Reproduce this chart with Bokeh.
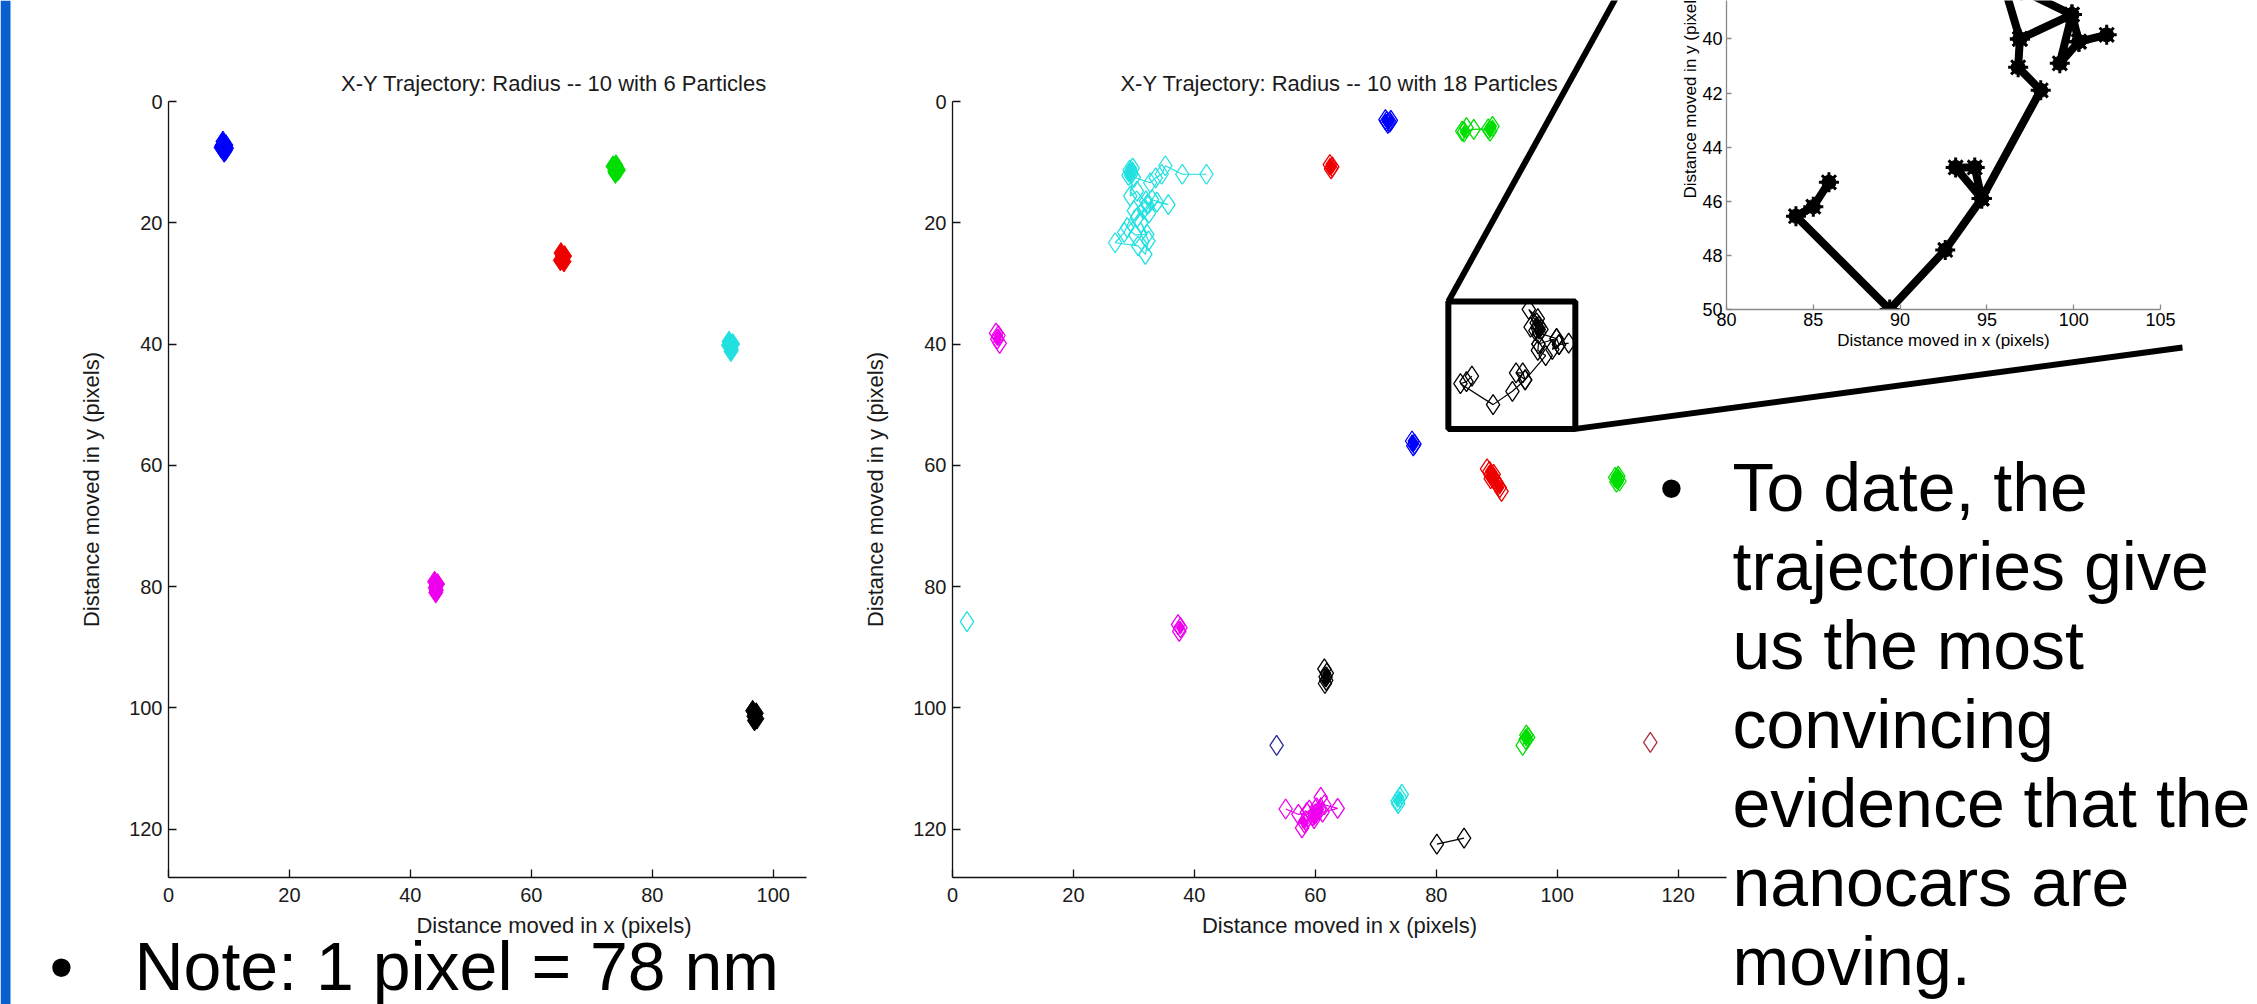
import math
from bokeh.plotting import figure
from bokeh.models import Range1d, FixedTicker, GridBox
from bokeh.core.properties import value
from bokeh.embed import file_html
from bokeh.resources import INLINE

W, H = 2257, 1004
FONT = "Liberation Sans"

# ---------------- data ----------------
AXIS_TICKS = [0, 20, 40, 60, 80, 100, 120]
LEFT_X_TICKS = [0, 20, 40, 60, 80, 100]
X_LABEL = "Distance moved in x (pixels)"
Y_LABEL = "Distance moved in y (pixels)"

# Left plot: 6 particles (positions in pixels)
L_TITLE = "X-Y Trajectory: Radius -- 10 with 6 Particles"
L_BLUE_X = [9.0, 9.5, 8.7, 9.4, 9.1, 9.6, 8.8, 9.2]
L_BLUE_Y = [6.6, 7.2, 7.6, 8.1, 7.0, 7.7, 7.3, 8.3]
L_GREEN_X = [73.5, 74.2, 73.8, 74.4, 73.9, 74.0]
L_GREEN_Y = [10.7, 11.0, 11.5, 11.3, 11.8, 10.5]
L_RED_X = [64.9, 65.5, 65.1, 65.4, 64.8, 65.2]
L_RED_Y = [25.0, 25.5, 26.0, 26.4, 26.2, 25.6]
L_CYAN_X = [92.7, 93.3, 92.9, 93.1, 93.0, 92.6]
L_CYAN_Y = [39.6, 40.0, 40.5, 40.9, 41.2, 40.2]
L_MAG_X = [44.0, 44.5, 44.1, 44.3, 44.2]
L_MAG_Y = [79.2, 79.6, 80.2, 80.6, 81.0]
L_BLACK_X = [96.6, 97.2, 96.8, 97.3, 96.9, 97.0]
L_BLACK_Y = [100.5, 100.9, 101.4, 101.8, 102.1, 101.1]

# Middle plot: 18 particles
M_TITLE = "X-Y Trajectory: Radius -- 10 with 18 Particles"
M_BLUE1_X = [71.6, 72.3, 72.0, 72.5, 71.8]
M_BLUE1_Y = [3.0, 3.4, 3.6, 3.1, 3.3]
M_GREEN1_X = [84.3, 85.0, 84.6, 86.2, 88.6, 89.3, 88.9]
M_GREEN1_Y = [4.9, 4.3, 5.0, 4.6, 4.5, 4.1, 4.9]
M_RED1_X = [62.4, 62.8, 62.6]
M_RED1_Y = [10.4, 10.8, 11.1]
M_CYAN1_X = [42.0, 38.0, 35.2, 34.6, 33.6, 32.7, 30.0, 29.5, 29.1, 29.6, 29.3, 29.8, 29.4, 30.5, 32.2, 33.0,
             35.7, 33.8, 32.5, 31.6, 30.5, 28.9, 30.2, 32.2, 31.2, 32.4, 31.9, 30.7, 26.9, 28.4, 30.0, 32.0]
M_CYAN1_Y = [12.0, 12.0, 10.6, 12.0, 12.6, 13.4, 12.5, 11.6, 12.2, 11.9, 11.3, 11.0, 15.6, 14.8, 17.0, 16.2,
             17.0, 16.6, 18.4, 17.8, 19.2, 20.8, 22.0, 21.9, 20.0, 23.0, 25.2, 23.8, 23.3, 21.6, 18.0, 16.4]
M_MAG1_X = [7.2, 7.6, 7.4, 7.8]
M_MAG1_Y = [38.2, 38.6, 39.2, 39.9]
BLK_X = [96.9, 99.9, 99.2, 100.3, 101.9, 100.3, 99.9, 97.0, 97.4, 97.0, 96.6, 95.3, 96.8, 96.4, 95.6,
         96.9, 96.8, 98.1, 94.7, 94.3, 93.2, 94.7, 92.6, 89.4, 84.0, 85.0, 85.9]
BLK_Y = [40.0, 39.1, 40.9, 40.1, 39.85, 40.1, 39.1, 38.2, 37.6, 37.0, 36.5, 34.3, 35.8, 37.8, 37.2,
         40.0, 41.05, 41.9, 45.9, 44.75, 44.75, 45.9, 47.8, 50.0, 46.55, 46.2, 45.3]
M_BLUE2_X = [76.0, 76.4, 76.2]
M_BLUE2_Y = [56.0, 56.5, 56.8]
M_RED2_X = [88.4, 88.8, 89.0, 89.3, 89.6, 89.9, 90.2, 90.5, 90.8, 89.5, 89.0, 90.0]
M_RED2_Y = [60.6, 61.0, 61.6, 61.9, 62.3, 62.8, 63.3, 63.7, 64.3, 61.5, 62.2, 63.0]
M_GREEN2_X = [109.6, 110.0, 110.3, 109.8, 110.1]
M_GREEN2_Y = [62.0, 62.2, 62.6, 62.8, 61.8]
M_CYAN2_X = [2.4]
M_CYAN2_Y = [85.8]
M_MAG2_X = [37.3, 37.7, 37.5]
M_MAG2_Y = [86.3, 86.8, 87.4]
M_BLACK2_X = [61.5, 61.9, 61.7, 61.8, 61.6]
M_BLACK2_Y = [93.6, 94.3, 94.9, 95.5, 96.0]
M_NAVY_X = [53.6]
M_NAVY_Y = [106.2]
M_GREEN3_X = [94.9, 95.2, 94.8, 94.3]
M_GREEN3_Y = [104.5, 104.9, 105.2, 106.2]
M_DKRED_X = [115.4]
M_DKRED_Y = [105.7]
M_MAG3_X = [55.1, 57.2, 58.6, 59.0, 59.6, 60.2, 60.9, 61.5, 63.7, 61.2, 59.8, 58.4, 57.8, 58.2, 60.0, 60.7]
M_MAG3_Y = [116.7, 117.6, 117.3, 116.9, 117.8, 116.5, 114.8, 116.0, 116.6, 117.2, 118.3, 118.6, 119.8, 119.0, 117.5, 116.8]
M_CYAN3_X = [73.6, 74.0, 74.3, 73.7]
M_CYAN3_Y = [115.4, 114.8, 114.3, 115.8]
M_BLACK3_X = [80.1, 84.6]
M_BLACK3_Y = [122.5, 121.5]

# Inset (zoom of the black trajectory) and zoom box in middle plot
IN_X_TICKS = [80, 85, 90, 95, 100, 105]
IN_Y_TICKS = [40, 42, 44, 46, 48, 50]
ZOOM_X = [82.0, 103.0]
ZOOM_Y = [33.0, 54.0]

NOTE_TEXT = "Note: 1 pixel = 78 nm"
BULLET_LINES = ["To date, the", "trajectories give", "us the most", "convincing",
                "evidence that the", "nanocars are", "moving."]

BLUE, GREEN, RED, CYAN, MAG, BLACK = "#0000ff", "#00dd00", "#ee0000", "#22e0e0", "#ee00ee", "#000000"
NAVY, DKRED = "#2a2a98", "#b03040"

LEFT_TRACKS = [(BLUE, L_BLUE_X, L_BLUE_Y), (GREEN, L_GREEN_X, L_GREEN_Y), (RED, L_RED_X, L_RED_Y),
               (CYAN, L_CYAN_X, L_CYAN_Y), (MAG, L_MAG_X, L_MAG_Y), (BLACK, L_BLACK_X, L_BLACK_Y)]
MID_TRACKS = [(BLUE, M_BLUE1_X, M_BLUE1_Y), (GREEN, M_GREEN1_X, M_GREEN1_Y), (RED, M_RED1_X, M_RED1_Y),
              (CYAN, M_CYAN1_X, M_CYAN1_Y), (MAG, M_MAG1_X, M_MAG1_Y), (BLACK, BLK_X, BLK_Y),
              (BLUE, M_BLUE2_X, M_BLUE2_Y), (RED, M_RED2_X, M_RED2_Y), (GREEN, M_GREEN2_X, M_GREEN2_Y),
              (CYAN, M_CYAN2_X, M_CYAN2_Y), (MAG, M_MAG2_X, M_MAG2_Y), (BLACK, M_BLACK2_X, M_BLACK2_Y),
              (NAVY, M_NAVY_X, M_NAVY_Y), (GREEN, M_GREEN3_X, M_GREEN3_Y), (DKRED, M_DKRED_X, M_DKRED_Y),
              (MAG, M_MAG3_X, M_MAG3_Y), (CYAN, M_CYAN3_X, M_CYAN3_Y), (BLACK, M_BLACK3_X, M_BLACK3_Y)]

# ---------------- layout (slide pixels) ----------------
PLOT_TOP, PLOT_H, YMAX = 101, 776, 128.0
L_LEFT, L_FW, L_XMAX, L_AXIS_END = 168, 771, 127.5, 105.5
M_LEFT, M_FW, M_XMAX = 952, 774, 128.0
I_LEFT, I_FW, I_H, I_YTOP = 1726, 434, 309, 38.58
INSET_TL = (1636, -40)
INSET_BR = (2182, 347)
TEXT_COLOR = "#1a1a1a"
NOTE_Y = 965
BODY_Y0, BODY_DY = 486, 79


def make_fig(left, top, fw, fh, xr, yr):
    p = figure(width=W, height=H, x_range=xr, y_range=yr, output_backend="svg",
               toolbar_location=None, min_border_left=left, min_border_top=top,
               min_border_right=W - left - fw, min_border_bottom=H - top - fh)
    if "frame_align" in p.properties():
        p.frame_align = False
    p.border_fill_color = None
    p.background_fill_color = None
    p.outline_line_color = None
    p.xgrid.visible = False
    p.ygrid.visible = False
    return p


def style_axes(p, color, tick_size, label_size, tick_len):
    for ax in list(p.xaxis) + list(p.yaxis):
        ax.axis_line_color = color
        ax.axis_line_width = 1.3
        ax.major_tick_line_color = color
        ax.major_tick_line_width = 1.3
        ax.major_tick_in = tick_len
        ax.major_tick_out = 0
        ax.minor_tick_line_color = None
        ax.major_label_text_font = FONT
        ax.major_label_text_font_size = tick_size
        ax.major_label_text_color = TEXT_COLOR
        ax.axis_label_text_font = FONT
        ax.axis_label_text_font_size = label_size
        ax.axis_label_text_font_style = "normal"
        ax.axis_label_text_color = TEXT_COLOR


def plot_axes(p, title, xticks):
    p.title.text = title
    p.title.align = "center"
    p.title.text_font = FONT
    p.title.text_font_size = "22px"
    p.title.text_font_style = "normal"
    p.title.text_color = TEXT_COLOR
    p.title.standoff = 12
    p.xaxis.ticker = FixedTicker(ticks=xticks)
    p.yaxis.ticker = FixedTicker(ticks=AXIS_TICKS)
    p.xaxis.axis_label = X_LABEL
    p.yaxis.axis_label = Y_LABEL
    style_axes(p, "#111111", "20px", "22px", 8)
    p.xaxis.major_label_standoff = 10
    p.xaxis.axis_label_standoff = 8
    p.yaxis.major_label_standoff = 6
    p.yaxis.axis_label_standoff = 22


def dense_points(xs, ys, r=0.9, k=2):
    dx, dy = [], []
    for i, (x, y) in enumerate(zip(xs, ys)):
        n = sum(1 for j, (u, v) in enumerate(zip(xs, ys))
                if j != i and (u - x) ** 2 + (v - y) ** 2 <= r * r)
        if n >= k:
            dx.append(x)
            dy.append(y)
    return dx, dy


# ---------------- background slide ----------------
bg = figure(width=W, height=H, x_range=Range1d(0, W), y_range=Range1d(H, 0), output_backend="svg",
            toolbar_location=None, min_border=0, x_axis_location=None, y_axis_location=None)
if "frame_align" in bg.properties():
    bg.frame_align = False
bg.outline_line_color = None
bg.xgrid.visible = False
bg.ygrid.visible = False
bg.background_fill_color = "white"
bg.border_fill_color = "white"
bg.quad(left=[0], right=[10], top=[0], bottom=[H], fill_color="#0a5fd0", line_color=None)


def mid_sx(x):
    return M_LEFT + x * M_FW / M_XMAX


def mid_sy(y):
    return PLOT_TOP + y * PLOT_H / YMAX


# callout lines from the zoom box to the inset picture
bg.line([mid_sx(ZOOM_X[0]), INSET_TL[0]], [mid_sy(ZOOM_Y[0]), INSET_TL[1]], line_color="black", line_width=6)
bg.line([mid_sx(ZOOM_X[1]), INSET_BR[0]], [mid_sy(ZOOM_Y[1]), INSET_BR[1]], line_color="black", line_width=6)

BIG = value("68px")
bg.text(x=[61], y=[NOTE_Y], text=["\u2022"], text_font=value(FONT), text_font_size=BIG,
        text_align="center", text_baseline="alphabetic", text_color="black")
bg.text(x=[134], y=[NOTE_Y], text=[NOTE_TEXT], text_font=value(FONT), text_font_size=BIG,
        text_align="left", text_baseline="alphabetic", text_color="black")
bg.text(x=[1671], y=[BODY_Y0], text=["\u2022"], text_font=value(FONT), text_font_size=BIG,
        text_align="center", text_baseline="alphabetic", text_color="black")
line_y = [BODY_Y0 + BODY_DY * i for i in range(len(BULLET_LINES))]
bg.text(x=[1732] * len(BULLET_LINES), y=line_y, text=BULLET_LINES, text_font=value(FONT),
        text_font_size=BIG, text_align="left", text_baseline="alphabetic", text_color="black")
# inset y label (its upper part is cut by the slide edge)
bg.text(x=[1690], y=[198], text=[Y_LABEL], angle=math.pi / 2, text_font=value(FONT),
        text_font_size=value("17px"), text_align="left", text_baseline="middle", text_color="black")

# ---------------- left plot ----------------
p_l = make_fig(L_LEFT, PLOT_TOP, L_FW, PLOT_H, Range1d(0, L_XMAX), Range1d(YMAX, 0))
plot_axes(p_l, L_TITLE, LEFT_X_TICKS)
p_l.xaxis.bounds = (0, L_AXIS_END)
for color, xs, ys in LEFT_TRACKS:
    p_l.line(xs, ys, line_color=color, line_width=1)
    p_l.scatter(xs, ys, marker="diamond", size=21, fill_color=color, line_color=color, line_width=1)

# ---------------- middle plot ----------------
p_m = make_fig(M_LEFT, PLOT_TOP, M_FW, PLOT_H, Range1d(0, M_XMAX), Range1d(YMAX, 0))
plot_axes(p_m, M_TITLE, AXIS_TICKS)
for color, xs, ys in MID_TRACKS:
    if len(xs) > 1:
        p_m.line(xs, ys, line_color=color, line_width=1.2)
    p_m.scatter(xs, ys, marker="diamond", size=20, fill_color=None, line_color=color, line_width=1.3)
    dx, dy = dense_points(xs, ys)
    if dx:
        p_m.scatter(dx, dy, marker="diamond", size=14, fill_color=color, line_color=None)
p_m.quad(left=[ZOOM_X[0]], right=[ZOOM_X[1]], top=[ZOOM_Y[0]], bottom=[ZOOM_Y[1]],
         fill_color=None, line_color="black", line_width=6)

# ---------------- inset ----------------
p_i = make_fig(I_LEFT, 0, I_FW, I_H, Range1d(IN_X_TICKS[0], IN_X_TICKS[-1]), Range1d(IN_Y_TICKS[-1], I_YTOP))
p_i.xaxis.ticker = FixedTicker(ticks=IN_X_TICKS)
p_i.yaxis.ticker = FixedTicker(ticks=IN_Y_TICKS)
p_i.xaxis.axis_label = X_LABEL
style_axes(p_i, "#8a8a8a", "18px", "17px", 5)
for ax in list(p_i.xaxis) + list(p_i.yaxis):
    ax.major_label_text_color = "black"
    ax.axis_label_text_color = "black"
p_i.xaxis.major_label_standoff = 3
p_i.xaxis.axis_label_standoff = 2
p_i.yaxis.major_label_standoff = 4
p_i.line(BLK_X, BLK_Y, line_color="black", line_width=8, line_join="round")
p_i.scatter(BLK_X, BLK_Y, marker="circle", size=14, fill_color="black", line_color="black")
p_i.scatter(BLK_X, BLK_Y, marker="asterisk", size=20, line_color="black", line_width=3)

layout = GridBox(children=[(bg, 0, 0), (p_l, 0, 0), (p_m, 0, 0), (p_i, 0, 0)])

with open("out.html", "w") as f:
    f.write(file_html(layout, INLINE))
